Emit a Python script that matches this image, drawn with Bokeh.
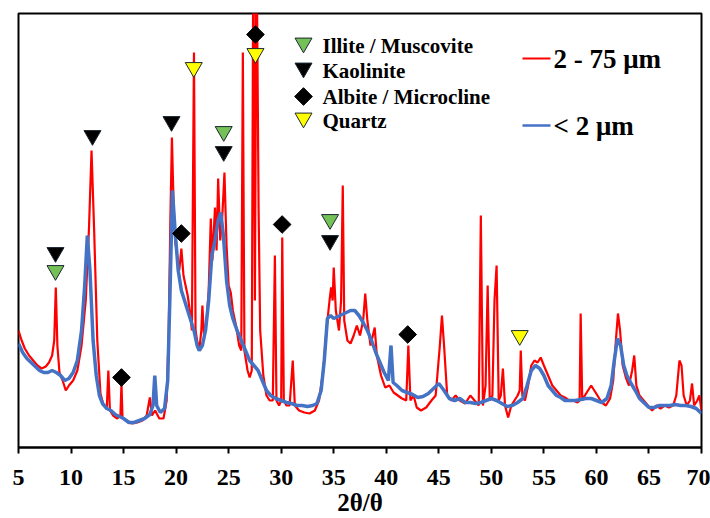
import numpy as np
from bokeh.plotting import figure
from bokeh.models import Range1d, FixedTicker, Label
from bokeh.embed import file_html
from bokeh.resources import INLINE

# ---------------- data ----------------
x_ticks = [5, 10, 15, 20, 25, 30, 35, 40, 45, 50, 55, 60, 65, 70]

# 2 - 75 um fraction
red_2theta = [5.0, 5.3, 5.6, 6.0, 6.4, 6.8, 7.2, 7.6, 7.9, 8.2, 8.4, 8.55, 8.7, 8.9, 9.2, 9.5, 9.8,
              10.2, 10.6, 11.0, 11.4, 11.7, 11.95, 12.2, 12.5, 12.8, 13.1, 13.4, 13.55, 13.7, 14.0,
              14.4, 14.7, 14.8, 14.9, 15.3, 15.8, 16.3, 16.8, 17.2, 17.5, 17.7, 18.0, 18.4, 18.8,
              19.1, 19.3, 19.45, 19.6, 19.75, 19.9, 20.1, 20.3, 20.5, 20.7, 20.9, 21.1, 21.3, 21.5,
              21.7, 21.85, 22.0, 22.2, 22.4, 22.5, 22.65, 22.9, 23.1, 23.3, 23.45, 23.7, 23.85, 24.0,
              24.2, 24.4, 24.6, 24.8, 25.0, 25.2, 25.4, 25.7, 26.0, 26.2, 26.35, 26.5, 26.8, 27.0,
              27.2, 27.35, 27.5, 27.65, 27.85, 28.0, 28.3, 28.6, 28.9, 29.2, 29.4, 29.55, 29.8, 30.0,
              30.1, 30.25, 30.5, 30.8, 31.1, 31.3, 31.7, 32.2, 32.7, 33.2, 33.6, 34.0, 34.3, 34.6,
              34.75, 34.9, 35.0, 35.2, 35.5, 35.7, 35.86, 36.0, 36.3, 36.6, 36.9, 37.2, 37.5, 37.8,
              38.0, 38.2, 38.5, 38.9, 39.1, 39.5, 39.9, 40.3, 40.7, 41.1, 41.5, 41.9, 42.1, 42.3,
              42.6, 42.9, 43.3, 43.8, 44.3, 44.7, 45.1, 45.3, 45.5, 45.8, 46.2, 46.6, 47.0, 47.5,
              48.0, 48.4, 48.8, 49.0, 49.2, 49.45, 49.65, 49.85, 50.1, 50.3, 50.5, 50.7, 50.9, 51.1,
              51.3, 51.6, 51.9, 52.2, 52.5, 52.7, 52.8, 52.95, 53.2, 53.5, 53.8, 54.1, 54.4, 54.7,
              55.0, 55.4, 55.8, 56.2, 56.6, 57.0, 57.4, 57.8, 58.2, 58.4, 58.5, 58.65, 58.9, 59.2,
              59.5, 59.8, 60.1, 60.5, 60.9, 61.3, 61.6, 61.85, 62.05, 62.25, 62.5, 62.8, 63.1, 63.4,
              63.6, 63.8, 64.1, 64.5, 64.9, 65.3, 65.7, 66.1, 66.5, 66.9, 67.3, 67.6, 67.9, 68.1,
              68.3, 68.6, 68.9, 69.1, 69.3, 69.6, 69.8, 70.0]
red_intensity = [117, 107, 99, 92, 87, 82, 79, 81, 85, 92, 107, 160, 102, 75, 67, 57, 62,
                 67, 77, 102, 147, 217, 297, 217, 107, 54, 42, 39, 77, 37, 32,
                 29, 32, 64, 29, 27, 24, 25, 27, 32, 50, 32, 37, 29, 29,
                 47, 117, 227, 310, 247, 207, 192, 177, 199, 172, 162, 152, 137, 117,
                 395, 117, 107, 97, 117, 142, 112, 127, 157, 229, 187, 240, 197, 269,
                 207, 232, 275, 202, 162, 155, 137, 122, 102, 97, 395, 97, 77, 70,
                 77, 520, 147, 520, 237, 117, 72, 52, 47, 47, 192, 47, 42, 47,
                 210, 47, 42, 42, 87, 42, 37, 35, 34, 37, 47, 77, 117, 147,
                 160, 147, 180, 137, 117, 147, 262, 127, 107, 104, 112, 122, 112, 127,
                 154, 127, 102, 120, 92, 72, 60, 62, 55, 52, 49, 47, 102, 47,
                 52, 40, 37, 40, 47, 52, 102, 132, 102, 52, 47, 52, 47, 44,
                 52, 47, 42, 232, 42, 62, 162, 47, 52, 147, 182, 47, 52, 79,
                 42, 30, 42, 47, 52, 57, 97, 52, 47, 62, 82, 87, 85, 90,
                 82, 72, 62, 57, 52, 50, 47, 47, 45, 47, 134, 47, 52, 57,
                 62, 57, 52, 45, 42, 49, 67, 107, 134, 117, 82, 70, 62, 77,
                 92, 62, 52, 47, 42, 37, 42, 39, 42, 40, 42, 52, 87, 82,
                 52, 42, 47, 64, 42, 47, 52, 37]

# < 2 um fraction
blue_2theta = [5.0, 5.4, 5.8, 6.2, 6.6, 7.0, 7.4, 7.8, 8.2, 8.6, 9.0, 9.4, 9.8, 10.2, 10.6, 11.0,
               11.3, 11.55, 11.8, 12.1, 12.4, 12.7, 13.0, 13.4, 13.8, 14.2, 14.6, 15.0, 15.5, 16.0,
               16.5, 17.0, 17.5, 17.8, 17.97, 18.15, 18.5, 18.9, 19.2, 19.4, 19.65, 19.9, 20.2, 20.5,
               20.8, 21.1, 21.4, 21.7, 22.0, 22.2, 22.5, 22.8, 23.1, 23.4, 23.7, 24.0, 24.25, 24.5,
               24.8, 25.1, 25.4, 25.8, 26.2, 26.6, 27.0, 27.4, 27.8, 28.2, 28.6, 29.0, 29.5, 30.0,
               30.5, 31.0, 31.5, 32.0, 32.5, 33.0, 33.4, 33.8, 34.1, 34.4, 34.7, 35.0, 35.4, 35.8,
               36.2, 36.6, 37.0, 37.4, 37.8, 38.2, 38.6, 39.0, 39.4, 39.8, 40.2, 40.45, 40.65, 41.0,
               41.5, 42.0, 42.5, 43.0, 43.5, 44.0, 44.5, 45.0, 45.5, 46.0, 46.5, 47.0, 47.5, 48.0,
               48.5, 49.0, 49.5, 50.0, 50.5, 51.0, 51.5, 52.0, 52.5, 53.0, 53.4, 53.8, 54.2, 54.6,
               55.0, 55.4, 55.8, 56.2, 56.6, 57.0, 57.5, 58.0, 58.5, 59.0, 59.5, 60.0, 60.5, 61.0,
               61.4, 61.7, 62.0, 62.3, 62.6, 62.9, 63.3, 63.7, 64.1, 64.5, 65.0, 65.5, 66.0, 66.5,
               67.0, 67.5, 68.0, 68.5, 69.0, 69.5, 70.0]
blue_intensity = [104, 95, 89, 85, 81, 77, 75, 75, 77, 75, 72, 67, 69, 75, 87, 117,
                  162, 212, 177, 107, 72, 52, 44, 39, 37, 33, 31, 29, 25, 25,
                  27, 29, 33, 42, 72, 42, 35, 39, 67, 147, 257, 217, 177, 157,
                  147, 137, 127, 117, 102, 97, 102, 117, 147, 192, 207, 227, 235, 212,
                  167, 142, 129, 117, 107, 97, 87, 82, 77, 67, 57, 52, 49, 47,
                  45, 44, 42, 42, 41, 42, 44, 57, 87, 129, 132, 129, 131, 133,
                  135, 137, 137, 132, 125, 117, 107, 95, 85, 75, 67, 102, 65, 62,
                  57, 55, 53, 50, 51, 54, 59, 64, 57, 49, 47, 49, 45, 45,
                  44, 45, 47, 49, 47, 44, 41, 42, 45, 49, 62, 77, 82, 79,
                  72, 62, 57, 52, 50, 47, 47, 47, 48, 49, 49, 47, 45, 49,
                  62, 87, 109, 102, 82, 72, 64, 57, 49, 45, 40, 40, 42, 42,
                  42, 43, 42, 42, 41, 39, 34]

# phase markers (2theta, marker height)
illite_2theta = [8.52, 24.53, 34.65]
illite_height = [177, 316, 228]
kaolinite_2theta = [8.52, 12.04, 19.56, 24.53, 34.65]
kaolinite_height = [195, 312, 326, 296, 207]
albite_2theta = [14.8, 20.5, 27.55, 30.09, 42.04]
albite_height = [70, 214, 413, 223, 113]
quartz_2theta = [21.68, 27.55, 52.7]
quartz_height = [380, 394, 112]

phase_names = ["Illite / Muscovite", "Kaolinite", "Albite / Microcline", "Quartz"]
series_names = ["2 - 75 \u03bcm", "< 2 \u03bcm"]
x_title = "2\u03b8/\u03b8"

# ---------------- styles ----------------
RED = "#FF0000"
BLUE = "#4472C4"
GREEN = "#74C158"
YELLOW = "#FFFF00"
EDGE = "#1B2631"
FONT = "Liberation Serif"

p = figure(frame_width=683, frame_height=434,
           min_border_left=18, min_border_right=9, min_border_top=13, min_border_bottom=71,
           x_range=Range1d(5, 70), y_range=Range1d(0, 434),
           output_backend="svg", toolbar_location=None)
p.extra_x_ranges = {"px": Range1d(18, 701)}
p.extra_y_ranges = {"px": Range1d(447, 13)}

p.background_fill_color = "white"
p.border_fill_color = "white"
p.outline_line_color = "black"
p.outline_line_width = 2
p.grid.visible = False
p.yaxis.visible = False

ax = p.xaxis[0]
ax.ticker = FixedTicker(ticks=x_ticks)
ax.axis_line_width = 2
ax.axis_line_color = "black"
ax.major_tick_line_width = 2
ax.major_tick_out = 6
ax.major_tick_in = 0
ax.minor_tick_line_color = None
ax.major_label_standoff = 16
ax.major_label_text_font = FONT
ax.major_label_text_font_style = "bold"
ax.major_label_text_font_size = "24px"
ax.major_label_text_color = "black"
ax.axis_label = x_title
ax.axis_label_standoff = 1
ax.axis_label_text_font = FONT
ax.axis_label_text_font_style = "bold"
ax.axis_label_text_font_size = "25px"
ax.axis_label_text_color = "black"

# curves
p.line(red_2theta, red_intensity, line_color=RED, line_width=2.2)
p.line(blue_2theta, blue_intensity, line_color=BLUE, line_width=3.5)

# peak markers
p.scatter(illite_2theta, illite_height, marker="inverted_triangle", size=17,
          fill_color=GREEN, line_color=EDGE, line_width=1)
p.scatter(kaolinite_2theta, kaolinite_height, marker="inverted_triangle", size=17,
          fill_color="black", line_color=EDGE, line_width=1)
p.scatter(albite_2theta, albite_height, marker="square", angle=np.pi / 4, size=12.5,
          fill_color="black", line_color="black", line_width=1)
p.scatter(quartz_2theta, quartz_height, marker="inverted_triangle", size=17,
          fill_color=YELLOW, line_color=EDGE, line_width=1)

# phase key (positions in frame pixel space)
key_rows = [45, 70, 96, 120]
p.scatter([303], [key_rows[0] - 2.5], marker="inverted_triangle", size=17, fill_color=GREEN,
          line_color=EDGE, line_width=1, x_range_name="px", y_range_name="px")
p.scatter([303], [key_rows[1] - 2.5], marker="inverted_triangle", size=17, fill_color="black",
          line_color=EDGE, line_width=1, x_range_name="px", y_range_name="px")
p.scatter([303], [key_rows[2]], marker="square", angle=np.pi / 4, size=12.5, fill_color="black",
          line_color="black", line_width=1, x_range_name="px", y_range_name="px")
p.scatter([303], [key_rows[3] - 2.5], marker="inverted_triangle", size=17, fill_color=YELLOW,
          line_color=EDGE, line_width=1, x_range_name="px", y_range_name="px")
for name, yy in zip(phase_names, key_rows):
    p.add_layout(Label(x=322, y=yy, text=name, x_range_name="px", y_range_name="px",
                       text_font=FONT, text_font_style="bold", text_font_size="21px",
                       text_color="black", text_baseline="middle", text_align="left"))

# series key
for name, col, yy, lw in zip(series_names, [RED, BLUE], [58, 125], [2, 2.5]):
    p.line([522, 550], [yy, yy], line_color=col, line_width=lw,
           x_range_name="px", y_range_name="px")
    p.add_layout(Label(x=553, y=yy, text=name, x_range_name="px", y_range_name="px",
                       text_font=FONT, text_font_style="bold", text_font_size="27px",
                       text_color="black", text_baseline="middle", text_align="left"))

open("out.html", "w").write(file_html(p, INLINE))
